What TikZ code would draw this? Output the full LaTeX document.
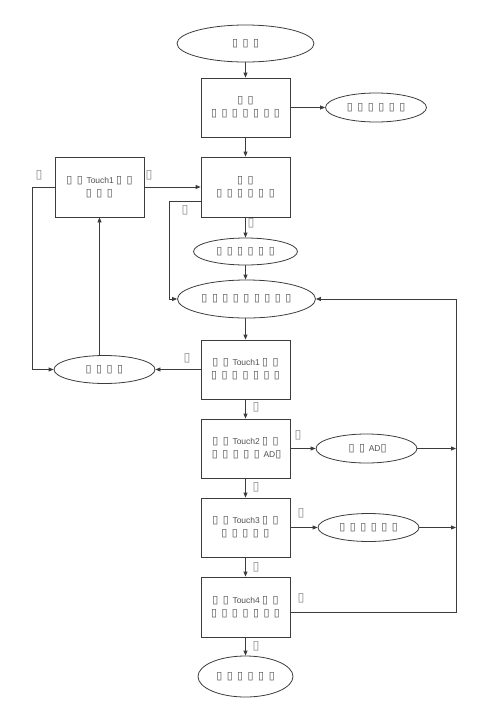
\documentclass[tikz,border=0pt]{standalone}
\usepackage{graphicx}
\usepackage{fontspec}
\setmainfont{Liberation Sans}
\newfontfamily\djv{DejaVu Sans}
\usetikzlibrary{arrows.meta,shapes.geometric}
\definecolor{ln}{HTML}{3C3C3C}
\definecolor{tofu}{HTML}{505050}
\definecolor{lbl}{HTML}{8A8A8A}
\newcommand\tfg{{\djv\resizebox{!}{7pt}{▯}}}
\newcommand\tf{\makebox[10.5pt]{\tfg}}
\newcommand\lbg{{\djv\resizebox{!}{8pt}{▯}}}
\begin{document}
\begin{tikzpicture}[x=1pt,y=-1pt,
  box/.style={draw=ln, line width=0.8pt, minimum width=89pt, minimum height=59pt,
    inner sep=0pt, align=center, text=tofu, font=\fontsize{8.5}{13}\selectfont},
  oval/.style={ellipse, draw=ln, line width=0.8pt, inner sep=0pt, text=tofu,
    font=\fontsize{8.5}{13}\selectfont},
  arr/.style={draw=ln, line width=0.8pt, -{Triangle[length=5pt,width=4pt]}},
  lab/.style={inner sep=0pt, text=lbl}
]
\path[use as bounding box] (0,0) rectangle (500,713);

\node[oval, minimum width=137pt, minimum height=37pt] (s) at (245.5,43.5) {\tf\tf\tf};
\node[box] (b1) at (245.5,107.5) {\tf\tf\\\tf\tf\tf\tf\tf\tf\tf};
\node[oval, minimum width=101pt, minimum height=29pt] (e1) at (376,107.5) {\tf\tf\tf\tf\tf\tf};
\node[box, minimum height=60pt] (b2) at (245.5,187) {\tf\tf\\\tf\tf\tf\tf\tf\tf};
\node[box, minimum height=60pt] (t1) at (99.5,187) {\tf\tf\,Touch1\tf\tf\\\tf\tf\tf};
\node[oval, minimum width=104pt, minimum height=27pt] (e2) at (245.5,251.5) {\tf\tf\tf\tf\tf\tf};
\node[oval, minimum width=138pt, minimum height=38pt] (e3) at (246.5,299) {\tf\tf\tf\tf\tf\tf\tf\tf\tf};
\node[box] (b3) at (245.5,369.5) {\tf\tf\,Touch1\tf\tf\\\tf\tf\tf\tf\tf\tf\tf};
\node[oval, minimum width=101pt, minimum height=28pt] (e4) at (104.5,369.5) {\tf\tf\tf\tf};
\node[box] (b4) at (245.5,448.5) {\tf\tf\,Touch2\tf\tf\\\tf\tf\tf\tf\tf\,AD\tfg};
\node[oval, minimum width=101pt, minimum height=29pt] (e5) at (366.5,448.5) {\tf\tf\,AD\tfg};
\node[box] (b5) at (245.5,527.5) {\tf\tf\,Touch3\tf\tf\\\tf\tf\tf\tf\tf};
\node[oval, minimum width=101pt, minimum height=28pt] (e6) at (368.5,527.5) {\tf\tf\tf\tf\tf\tf};
\node[box, minimum height=60pt] (b6) at (245.5,607) {\tf\tf\,Touch4\tf\tf\\\tf\tf\tf\tf\tf\tf\tf};
\node[oval, minimum width=95pt, minimum height=41pt] (e7) at (245.5,676.5) {\tf\tf\tf\tf\tf\tf};

\coordinate (k1) at (169,201);
\coordinate (k2) at (32,187);
\coordinate (k3) at (456,612);

\draw[arr] (s.south) -- (b1.north);
\draw[arr] (b1.east) -- (e1.west);
\draw[arr] (b1.south) -- (b2.north);
\draw[arr] (t1.east) -- (b2.west);
\draw[arr] (b2.south) -- (e2.north);
\draw[arr] (b2.west |- k1) -- (k1) |- (e3.west);
\draw[arr] (e2.south) -- (e3.north -| e2.south);
\draw[arr] (e3.south -| b3.north) -- (b3.north);
\draw[arr] (b3.west) -- (e4.east);
\draw[arr] (t1.west) -- (k2) |- (e4.west);
\draw[arr] (e4.north -| t1.south) -- (t1.south);
\draw[arr] (b3.south) -- (b4.north);
\draw[arr] (b4.east) -- (e5.west);
\draw[arr] (e5.east) -- (e5.east -| k3);
\draw[arr] (b4.south) -- (b5.north);
\draw[arr] (b5.east) -- (e6.west);
\draw[arr] (e6.east) -- (e6.east -| k3);
\draw[arr] (b5.south) -- (b6.north);
\draw[arr] (b6.east |- k3) -- (k3) |- (e3.east);
\draw[arr] (b6.south) -- (e7.north);

\node[lab] (l1) at (39,175) {\lbg};
\node[lab] (l2) at (149,175) {\lbg};
\node[lab] (l3) at (185,210) {\lbg};
\node[lab] (l4) at (251,223) {\lbg};
\node[lab] (l5) at (187,358) {\lbg};
\node[lab] (l6) at (256,407) {\lbg};
\node[lab] (l7) at (298,435) {\lbg};
\node[lab] (l8) at (256,487) {\lbg};
\node[lab] (l9) at (301,513) {\lbg};
\node[lab] (l10) at (256,567) {\lbg};
\node[lab] (l11) at (301,598) {\lbg};
\node[lab] (l12) at (256,646) {\lbg};
\end{tikzpicture}
\end{document}
